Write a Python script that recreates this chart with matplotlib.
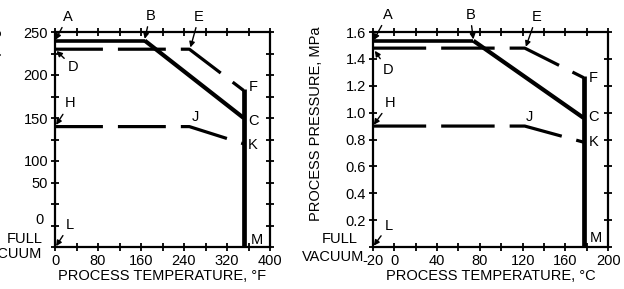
import matplotlib
matplotlib.use("Agg")
import matplotlib.pyplot as plt

plt.rcParams['font.family'] = ['Liberation Sans', 'DejaVu Sans']
plt.rcParams['lines.scale_dashes'] = False

# ---- left chart (deg F, psig; y below 100 is a compressed position scale) ----
f_ab_x = [0, 167]
f_ab_y = [240, 240]
f_bc_x = [167, 351]
f_bc_y = [240, 150]
f_def_x = [0, 250, 351]
f_def_y = [230, 230, 182]
f_hjk_x = [0, 250, 351]
f_hjk_y = [140, 140, 120]
f_vert_x = [351, 351]
f_vert_y = [184, 0]
f_xticks = [0, 40, 80, 120, 160, 200, 240, 280, 320, 360, 400]
f_xlabels = ['0', '', '80', '', '160', '', '240', '', '320', '', '400']
f_yticks = [0, 25, 50, 75, 100, 125, 150, 175, 200, 225, 250]
f_ylabels = ['', '', '', '50', '100', '', '150', '', '200', '', '250']

# ---- right chart (deg C, MPa) ----
c_ab_x = [-20, 74]
c_ab_y = [1.535, 1.535]
c_bc_x = [74, 177]
c_bc_y = [1.535, 0.96]
c_def_x = [-20, 122, 177]
c_def_y = [1.48, 1.48, 1.26]
c_hjk_x = [-20, 122, 177]
c_hjk_y = [0.9, 0.9, 0.78]
c_vert_x = [177, 177]
c_vert_y = [1.27, 0]
c_xticks = list(range(-20, 201, 20))
c_xlabels = ['-20', '0', '', '40', '', '80', '', '120', '', '160', '', '200']
c_yticks = [0, 0.2, 0.4, 0.6, 0.8, 1.0, 1.2, 1.4, 1.6]
c_ylabels = ['', '0.2', '0.4', '0.6', '0.8', '1.0', '1.2', '1.4', '1.6']

# point labels: (text, label x, label y, arrow target or None)
f_points = [
    ('A', 24, 268, (1, 241)),
    ('B', 177, 269, (167, 242)),
    ('E', 268, 268, (252, 232)),
    ('D', 34, 209, (3, 228)),
    ('H', 28, 167, (2, 142)),
    ('F', 368, 186, None),
    ('C', 370, 146, None),
    ('J', 262, 151, None),
    ('K', 368, 119, None),
    ('L', 28, 26, (2, 1)),
    ('M', 376, 8, None),
]
c_points = [
    ('A', -6, 1.73, (-19, 1.54)),
    ('B', 71, 1.73, (74, 1.545)),
    ('E', 133, 1.715, (123, 1.49)),
    ('D', -6, 1.32, (-18, 1.46)),
    ('H', -4, 1.075, (-19, 0.91)),
    ('F', 186, 1.26, None),
    ('C', 186, 0.97, None),
    ('J', 126, 0.97, None),
    ('K', 186, 0.78, None),
    ('L', -5, 0.16, (-19, 0.01)),
    ('M', 188.5, 0.067, None),
]

FS = 10.5

fig = plt.figure(figsize=(6.24, 2.89), dpi=100)
W, H = 624, 289
ax1 = fig.add_axes([55 / W, (H - 247) / H, 215 / W, 215 / H])
ax2 = fig.add_axes([372.7 / W, (H - 247) / H, 235.6 / W, 215 / H])


def draw_panel(ax, ab, bc, deff, hjk, vert, dash, points):
    ax.plot(*ab, color='black', lw=2.6, solid_capstyle='butt')
    ax.plot(*bc, color='black', lw=3.0, solid_capstyle='butt')
    ax.plot(*vert, color='black', lw=3.4, solid_capstyle='butt')
    l1, = ax.plot(*deff, color='black', lw=2.3)
    l1.set_dashes(dash)
    l2, = ax.plot(*hjk, color='black', lw=2.3)
    l2.set_dashes(dash)
    for name, tx, ty, target in points:
        if target is None:
            ax.text(tx, ty, name, fontsize=FS, ha='center', va='center')
        else:
            ax.annotate(name, xy=target, xytext=(tx, ty), fontsize=FS,
                        ha='center', va='center', annotation_clip=False,
                        arrowprops=dict(arrowstyle='-|>', color='black',
                                        lw=1.0, mutation_scale=8,
                                        shrinkA=1, shrinkB=0))
    for s in ax.spines.values():
        s.set_linewidth(1.6)
    ax.tick_params(direction='inout', length=6, width=1.3, labelsize=FS,
                   top=True, right=True, pad=2)


draw_panel(ax1, (f_ab_x, f_ab_y), (f_bc_x, f_bc_y), (f_def_x, f_def_y),
           (f_hjk_x, f_hjk_y), (f_vert_x, f_vert_y), (34.5, 10.8), f_points)
ax1.set_xlim(0, 400)
ax1.set_ylim(0, 250)
ax1.set_xticks(f_xticks)
ax1.set_xticklabels(f_xlabels)
ax1.set_yticks(f_yticks)
ax1.set_yticklabels(f_ylabels)
ax1.text(-22, 31, '0', fontsize=FS, ha='right', va='center')
ax1.text(-23, 9, 'FULL', fontsize=FS, ha='right', va='center')
ax1.text(-23, -8, 'VACUUM', fontsize=FS, ha='right', va='center')
ax1.set_xlabel('PROCESS TEMPERATURE, °F', fontsize=FS, labelpad=1)
fig.text(-5 / W, 1 - 124 / H, 'PROCESS PRESSURE, psig', rotation=90,
         fontsize=FS, ha='center', va='center')

draw_panel(ax2, (c_ab_x, c_ab_y), (c_bc_x, c_bc_y), (c_def_x, c_def_y),
           (c_hjk_x, c_hjk_y), (c_vert_x, c_vert_y), (38.5, 10.8), c_points)
ax2.set_xlim(-20, 200)
ax2.set_ylim(0, 1.6)
ax2.set_xticks(c_xticks)
ax2.set_xticklabels(c_xlabels)
ax2.set_yticks(c_yticks)
ax2.set_yticklabels(c_ylabels)
ax2.text(-34, 0.06, 'FULL', fontsize=FS, ha='right', va='center')
ax2.text(-28, -0.075, 'VACUUM', fontsize=FS, ha='right', va='center')
ax2.set_xlabel('PROCESS TEMPERATURE, °C', fontsize=FS, labelpad=1)
ax2.set_ylabel('PROCESS PRESSURE, MPa', fontsize=FS)
ax2.yaxis.set_label_coords(-0.211, 0.572)

fig.savefig('out.png', dpi=100, facecolor='white')
